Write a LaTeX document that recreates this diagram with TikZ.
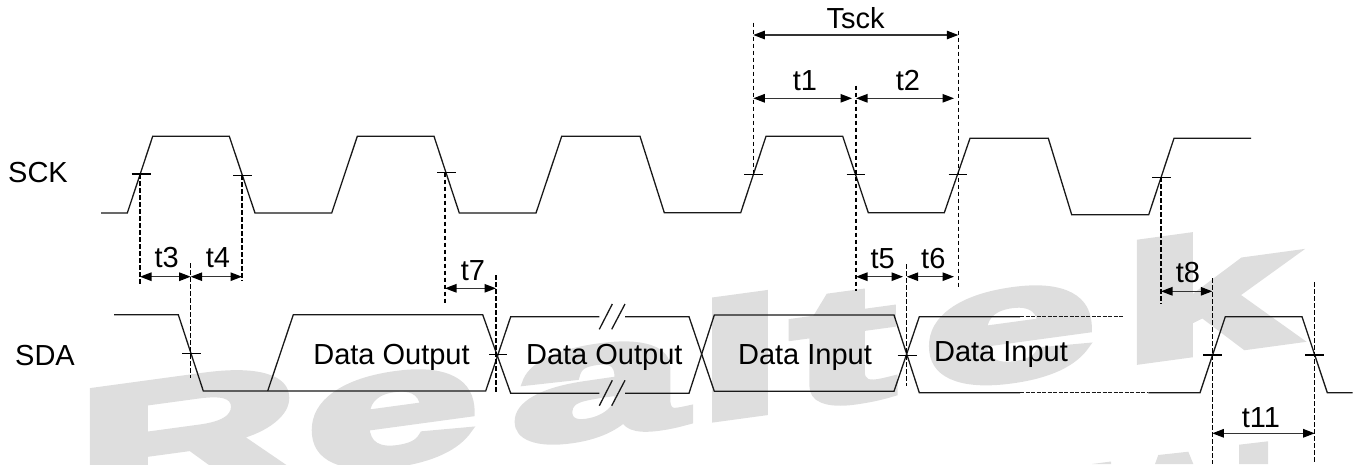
\documentclass[tikz,border=0pt]{standalone}
\usepackage{fontspec}
\setmainfont{Liberation Sans}
\newfontfamily\wmfont[FakeBold=4.3]{Liberation Sans Bold}
\usetikzlibrary{arrows.meta}
\definecolor{wm}{HTML}{DEDEDE}
\tikzset{
  wave/.style={line width=1.3pt,line join=miter,black!90},
  guide/.style={line width=1.3pt,dash pattern=on 4.5pt off 2.5pt,black},
  tickmark/.style={line width=1.2pt,black},
  dim/.style={line width=1.2pt,black!80,{Triangle[length=11.5pt,width=8.5pt,black]}-{Triangle[length=11.5pt,width=8.5pt,black]}},
  lbl/.style={anchor=base,inner sep=0pt,font=\fontsize{29}{29}\selectfont,black},
  sglbl/.style={anchor=base west,inner sep=0pt,font=\fontsize{29}{29}\selectfont,black}
}
\begin{document}
\begin{tikzpicture}[x=1pt,y=-1pt]
\useasboundingbox (0,0) rectangle (1359,464);
% watermark
\begin{scope}
\clip (0,0) rectangle (1359,464);
\begin{scope}[cm={1.9,0.2584,0,1,(75.5,505.7)}]
\node[anchor=base west,inner sep=0pt,transform shape,text=wm,font=\fontsize{163}{163}\selectfont\wmfont] (mark) at (0,0) {R\kern3.6pt e\kern17.9pt a\kern6.6pt l\kern4.4pt t\kern15.1pt e\kern13.9pt k};
\end{scope}
\fill[wm] (1092,464) -- (1111,461.5) -- (1111,464) -- cycle;
\fill[wm] (1155,464) -- (1158.3,455) -- (1188.3,451.7) -- (1193.3,464) -- cycle;
\fill[wm] (1239,444.7) -- (1268,441.3) -- (1268,464) -- (1239,464) -- cycle;
\end{scope}
% SCK
\draw[wave] (101,213) -- (127.3,213) -- (152.7,136.3) -- (229.3,136.3) -- (255,213) -- (331.7,213) -- (357.3,136.3) -- (434,136.3) -- (459.3,213) -- (536,213) -- (561.7,136.3) -- (640,136.3) -- (664.3,212.7) -- (740.7,212.7) -- (766,136.3) -- (842.7,136.3) -- (868.3,212.7) -- (944.3,212.7) -- (970,138.3) -- (1048.3,138.3) -- (1071.7,214.7) -- (1148.7,214.7) -- (1174,138.3) -- (1251,138.3);
% SDA
\draw[wave] (114,314.7) -- (178.3,314.7) -- (203.3,391) -- (485.7,391) -- (510.7,316.7) -- (599.3,316.7);
\draw[wave] (267.7,391) -- (293.3,314.7) -- (482.7,314.7) -- (510.7,393.3) -- (599.3,393.3);
\draw[wave] (625,316.7) -- (689,316.7) -- (714.3,391.3) -- (894,391.3) -- (919.3,316.7) -- (1020,316.7);
\draw[wave] (625,393.3) -- (689,393.3) -- (714.3,315) -- (894,315) -- (919.3,392.7) -- (1020,392.7);
\draw[wave,dash pattern=on 4pt off 1.5pt] (1020,316.7) -- (1123.3,316.7);
\draw[wave,dash pattern=on 4pt off 1.5pt] (1020,392.7) -- (1148.3,392.7);
\draw[wave] (1148.3,392.7) -- (1200,392.7) -- (1225.3,316.7) -- (1302,316.7) -- (1327.3,392.7) -- (1352.7,392.7);
% break marks
\draw[wave] (599.3,329.3) -- (612.3,304);
\draw[wave] (611.7,329.3) -- (625,304);
\draw[wave] (599.3,405.7) -- (612.3,380.3);
\draw[wave] (611.7,405.7) -- (625,380.3);
% threshold ticks
\foreach \xa/\xb/\yy in {131.7/150.7/174, 233/252/175.3, 437/456/172.7, 744.3/763.3/174.3, 846.7/865.3/174.3, 948.7/967.3/174.3, 1152/1170.7/177.3, 182.3/200.7/353.3, 489/507.3/354.3, 897.7/916.7/355.3, 1203.3/1222.3/355, 1305.3/1324/355}
  \draw[tickmark] (\xa,\yy) -- (\xb,\yy);
% named coordinates for guides
\coordinate (g3a) at (140,174);     \coordinate (g3b) at (140,284);
\coordinate (g4a) at (242,175);     \coordinate (g4b) at (242,281.3);
\coordinate (g7a) at (445,172.7);   \coordinate (g7b) at (445,304);
\coordinate (gsa) at (190.7,263.3); \coordinate (gsb) at (190.7,378.3);
\coordinate (gta) at (496,275);     \coordinate (gtb) at (496,392.7);
\coordinate (gca) at (753.3,22.7);  \coordinate (gcb) at (753.3,174);
\coordinate (gda) at (856,85.7);    \coordinate (gdb) at (856,290.7);
\coordinate (gea) at (958.3,30.7);  \coordinate (geb) at (958.3,289.3);
\coordinate (gfa) at (906.7,264.3); \coordinate (gfb) at (906.7,386);
\coordinate (gga) at (1161,177.3);  \coordinate (ggb) at (1161,304.3);
\coordinate (gha) at (1212.3,278.3);\coordinate (ghb) at (1212.3,464);
\coordinate (gia) at (1314.7,282.3);\coordinate (gib) at (1314.7,464);
\foreach \p in {g3,g4,g7,gs,gt,gc,gd,ge,gf,gg,gh,gi}
  \draw[guide] (\p a) -- (\p b);
% dimension lines
\coordinate (d3a) at (140,276.7);    \coordinate (d3b) at (190.7,276.7);
\coordinate (d4b) at (242,276.7);
\coordinate (d7a) at (445,288.3);    \coordinate (d7b) at (496,288.3);
\coordinate (dta) at (753.3,35);     \coordinate (dtb) at (958.3,35);
\coordinate (d1a) at (753.3,98.3);   \coordinate (d1b) at (852,98.3);
\coordinate (d2a) at (856,98.3);     \coordinate (d2b) at (954,98.3);
\coordinate (d5a) at (856,276.7);    \coordinate (d5b) at (903,276.7);
\coordinate (d6a) at (906.7,276.7);  \coordinate (d6b) at (954,276.7);
\coordinate (d8a) at (1161,291.3);   \coordinate (d8b) at (1212.3,291.3);
\coordinate (dea) at (1212.3,433.3); \coordinate (deb) at (1314.7,433.3);
\draw[dim] (d3a) -- (d3b);
\draw[dim] (d3b) -- (d4b);
\draw[dim] (d7a) -- (d7b);
\draw[dim] (dta) -- (dtb);
\draw[dim] (d1a) -- (d1b);
\draw[dim] (d2a) -- (d2b);
\draw[dim] (d5a) -- (d5b);
\draw[dim] (d6a) -- (d6b);
\draw[dim] (d8a) -- (d8b);
\draw[dim] (dea) -- (deb);
% labels
\node[sglbl] (sck) at (8,182.5) {SCK};
\node[sglbl] (sda) at (15,365) {SDA};
\node[lbl] (tsck) at (855.5,28) {Tsck};
\node[lbl] (t1) at (805,90) {t1};
\node[lbl] (t2) at (908,90) {t2};
\node[lbl] (t3) at (166.7,267.7) {t3};
\node[lbl] (t4) at (218,267.7) {t4};
\node[lbl] (t5) at (882.7,268.3) {t5};
\node[lbl] (t6) at (933.3,268.3) {t6};
\node[lbl] (t7) at (473,280) {t7};
\node[lbl] (t8) at (1188,282.7) {t8};
\node[lbl] (t11) at (1261,427.7) {t11};
\node[lbl] (do1) at (391.5,364) {Data Output};
\node[lbl] (do2) at (604.3,364) {Data Output};
\node[lbl] (di1) at (805,364) {Data Input};
\node[lbl] (di2) at (1001,361.7) {Data Input};
\end{tikzpicture}
\end{document}
